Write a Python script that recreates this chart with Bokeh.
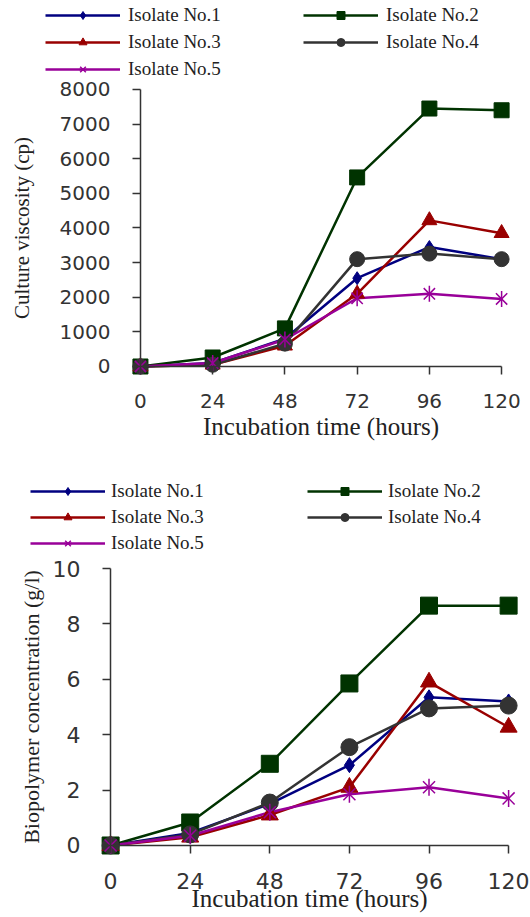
from bokeh.plotting import figure
from bokeh.models import Legend, LegendItem, Range1d, LinearAxis, FixedTicker
from bokeh.layouts import column
from bokeh.embed import file_html
from bokeh.resources import INLINE

hours = [0, 24, 48, 72, 96, 120]
series_names = ["Isolate No.1", "Isolate No.2", "Isolate No.3", "Isolate No.4", "Isolate No.5"]

visc_1 = [0, 100, 800, 2550, 3450, 3100]
visc_2 = [0, 260, 1100, 5460, 7450, 7400]
visc_3 = [0, 50, 600, 2100, 4220, 3850]
visc_4 = [0, 50, 660, 3100, 3260, 3100]
visc_5 = [0, 100, 780, 1970, 2100, 1950]
visc_ticks = [0, 1000, 2000, 3000, 4000, 5000, 6000, 7000, 8000]

bio_1 = [0, 0.45, 1.5, 2.9, 5.35, 5.2]
bio_2 = [0, 0.83, 2.95, 5.85, 8.66, 8.66]
bio_3 = [0, 0.3, 1.1, 2.1, 5.9, 4.27]
bio_4 = [0, 0.4, 1.55, 3.55, 4.95, 5.05]
bio_5 = [0, 0.35, 1.2, 1.85, 2.1, 1.7]
bio_ticks = [0, 2, 4, 6, 8, 10]

colors = ["#000080", "#003300", "#990000", "#333333", "#990099"]
markers = ["diamond", "square", "triangle", "circle", "star6"]
NAN = float("nan")
SERIF = "Liberation Serif"


def draw_marker(p, x, y, color, marker, size):
    if marker == "star6":
        r1 = p.scatter(x, y, marker="x", size=size, line_color=color, line_width=1.5)
        r2 = p.scatter(x, y, marker="dash", angle=1.5708, size=size, line_color=color, line_width=1.5)
        return [r1, r2]
    return [p.scatter(x, y, marker=marker, size=size, fill_color=color, line_color=color)]


def make_chart(H, xr, yr, ybounds, yticks, series, ylabel, tick_size, title_size, title_standoff,
               ylabel_font_size, ylabel_standoff, marker_sizes, leg_loc, leg_label_w, leg_spacing,
               leg_standoff):
    p = figure(width=530, height=H, x_range=Range1d(*xr), y_range=Range1d(*yr),
               output_backend="svg", toolbar_location=None, min_border=0,
               x_axis_type=None, y_axis_type=None)
    p.outline_line_color = None
    p.background_fill_color = "white"

    xaxis = LinearAxis(fixed_location=0, bounds=(0, 120), ticker=FixedTicker(ticks=hours))
    xaxis.axis_label = "Incubation time (hours)"
    yaxis = LinearAxis(fixed_location=0, bounds=ybounds, ticker=FixedTicker(ticks=yticks))
    yaxis.axis_label = ylabel
    for ax in (xaxis, yaxis):
        ax.axis_line_color = "#333333"
        ax.axis_line_width = 1.5
        ax.major_tick_line_color = "#333333"
        ax.major_tick_line_width = 1.5
        ax.major_tick_out = 8
        ax.major_tick_in = 0
        ax.minor_tick_out = 0
        ax.minor_tick_in = 0
        ax.major_label_text_font = "DejaVu Sans"
        ax.major_label_text_font_size = tick_size
        ax.major_label_text_color = "#333333"
        ax.axis_label_text_font_style = "normal"
        ax.axis_label_text_color = "#222222"
        ax.axis_label_text_font = SERIF
    xaxis.major_label_standoff = 20
    xaxis.axis_label_text_font_size = title_size
    xaxis.axis_label_standoff = title_standoff
    yaxis.major_label_standoff = 22
    yaxis.axis_label_text_font_size = ylabel_font_size
    yaxis.axis_label_standoff = ylabel_standoff
    p.add_layout(xaxis, "below")
    p.add_layout(yaxis, "left")

    for vals, c in zip(series, colors):
        p.line(hours, vals, line_color=c, line_width=2.5)
    for vals, c, m, s in zip(series, colors, markers, marker_sizes):
        draw_marker(p, hours, vals, c, m, s)

    items = []
    for name, c, m in zip(series_names, colors, markers):
        rl = p.line([NAN, NAN], [NAN, NAN], line_color=c, line_width=2.5)
        rm = draw_marker(p, [NAN], [NAN], c, m, 10)
        items.append(LegendItem(label=name, renderers=[rl] + rm))
    legend = Legend(items=items, location=leg_loc, orientation="horizontal", ncols=2,
                    glyph_width=75, glyph_height=20, label_height=20,
                    label_width=leg_label_w, label_standoff=leg_standoff, spacing=leg_spacing,
                    padding=0, margin=0, border_line_color=None, background_fill_alpha=0,
                    label_text_font=SERIF, label_text_font_size="19px",
                    label_text_color="#222222")
    p.add_layout(legend, "center")
    return p


top = make_chart(460, (-46.5, 129.6), (-2715, 10570), (0, 8000), visc_ticks,
                 [visc_1, visc_2, visc_3, visc_4, visc_5], "Culture viscosity (cp)",
                 "20px", "25px", 1, "21px", 23, [13, 15, 15, 15, 16], (45, 380), 170, 5, 8)
bottom = make_chart(457, (-33.2, 126.6), (-2.6, 13.9), (0, 10), bio_ticks,
                    [bio_1, bio_2, bio_3, bio_4, bio_5], "Biopolymer concentration (g/l)",
                    "22px", "25px", -8, "22px", 6, [15, 17, 17, 17, 17], (30, 363), 192, 4, 6)

layout = column(top, bottom, spacing=0)
open("out.html", "w").write(file_html(layout, INLINE))
